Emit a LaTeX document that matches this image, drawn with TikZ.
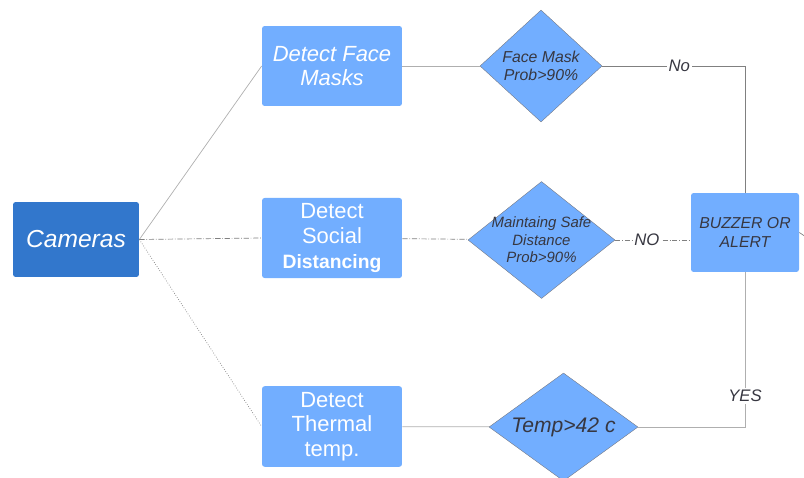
\documentclass[tikz,border=0pt]{standalone}
\usepackage{fontspec}
\setmainfont{Liberation Sans}
\definecolor{camblue}{RGB}{50,119,204}
\definecolor{boxblue}{RGB}{114,174,255}
\definecolor{linegray}{RGB}{175,175,175}
\definecolor{textgray}{RGB}{55,55,65}
\usetikzlibrary{shapes.geometric}

\begin{document}
\begin{tikzpicture}[
    x=0.02cm, y=-0.02cm,
    cam/.style={fill=camblue, rounded corners=1.5pt, minimum width=2.52cm, minimum height=1.5cm, text=white, font=\fontsize{14}{16}\selectfont\itshape},
    box/.style={fill=boxblue, rounded corners=1.5pt, minimum width=2.8cm, minimum height=1.6cm, align=center, text=white, font=\fontsize{12.5}{14}\selectfont},
    dec/.style={diamond, fill=boxblue, draw=textgray!70, very thin, inner sep=0pt, align=center, text=textgray, font=\fontsize{9}{10.5}\selectfont\itshape},
    alert/.style={fill=boxblue, rounded corners=1.5pt, minimum width=2.16cm, minimum height=1.58cm, align=center, text=textgray, font=\fontsize{9}{11}\selectfont\itshape},
    link/.style={draw=linegray, thin},
    lab/.style={fill=white, inner sep=1pt, text=textgray, font=\fontsize{9.5}{11}\selectfont\itshape}
  ]
    \useasboundingbox (0,0) rectangle (804,477);

    \node[cam] (cams) at (76,239.5) {Cameras};

    \node[box] (face) at (332,66) {\itshape Detect Face\\ \itshape Masks};
    \node[box] (social) at (332,238) {Detect\\ Social\\ {\fontsize{11}{14}\selectfont\bfseries Distancing}};
    \node[box] (thermal) at (332,426.5) {Detect\\ Thermal\\ temp.};

    \node[dec, minimum width=2.44cm, minimum height=2.24cm] (maskdec) at (541,66) {Face Mask\\ Prob>90\%};
    \node[dec, inner sep=-7pt, minimum width=2.94cm, minimum height=2.34cm, font=\fontsize{8.5}{10}\selectfont\itshape] (distdec) at (541.5,240) {Maintaing Safe\\ Distance\\ Prob>90\%};
    \node[dec, aspect=1.4, minimum width=2.98cm, minimum height=2.16cm, font=\fontsize{12}{14}\selectfont\itshape] (tempdec) at (563.5,427) {Temp>42 c};

    \node[alert] (buzz) at (745,232.5) {BUZZER OR\\ ALERT};
    \coordinate (offedge) at (806,237);

    % cameras to the three checks
    \draw[link] (cams.east) -- (face.west);
    \draw[link, draw=gray, densely dash dot] (cams.east) -- (social.west);
    \draw[link, draw=gray, densely dotted] (cams.east) -- (thermal.west);

    \draw[link] (face) -- (maskdec);
    \draw[link, draw=gray, densely dash dot] (social) -- (distdec);
    \draw[link] (thermal) -- (tempdec);

    % decisions to the alert
    \draw[link, draw=gray] (maskdec.east) -| node[lab, pos=0.27] (nolab) {No} (buzz.north);
    \draw[link, draw=gray, densely dash dot] (distdec.east) -- node[lab, pos=0.42] (nolab2) {NO} (distdec.east -| buzz.west);
    \draw[link] (tempdec.east) -| node[lab, pos=0.6] (yeslab) {YES} (buzz.south);
    \draw[link, draw=gray] (buzz.east) -- (offedge);
  \end{tikzpicture}
\end{document}
